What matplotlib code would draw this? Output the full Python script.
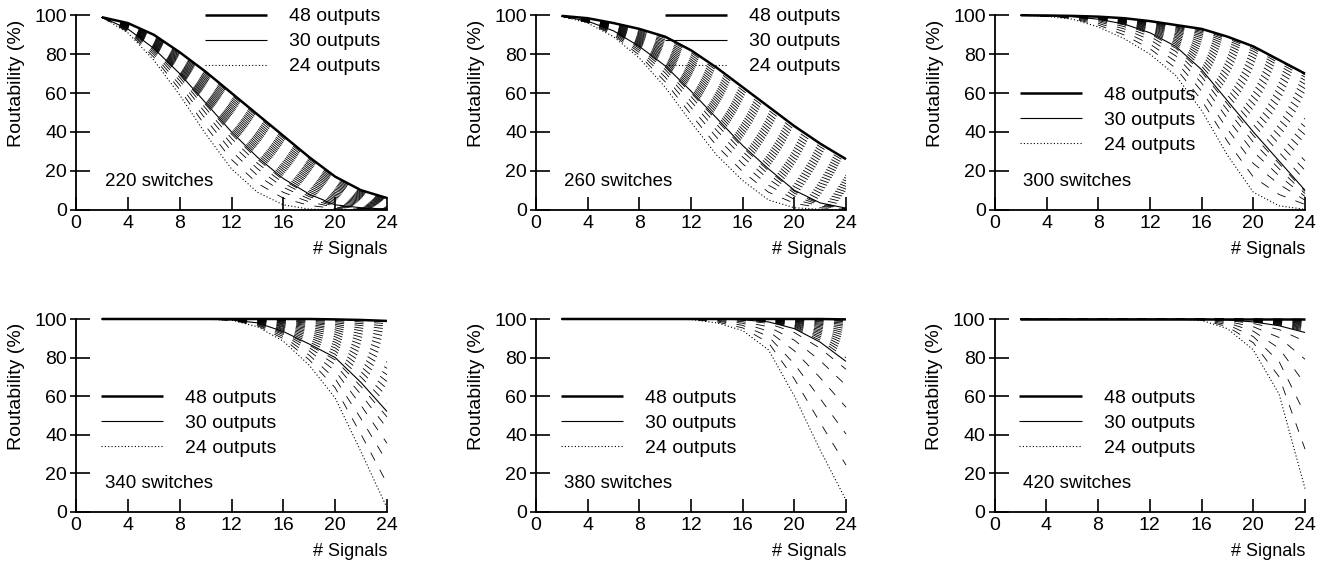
import matplotlib
matplotlib.use("Agg")
import matplotlib.pyplot as plt
from matplotlib.ticker import FixedLocator

plt.rcParams["font.family"] = ["Liberation Sans", "DejaVu Sans"]
plt.rcParams["lines.scale_dashes"] = False

SIGNALS = [2, 4, 6, 8, 10, 12, 14, 16, 18, 20, 22, 24]
OUTPUTS = [24, 25, 26, 27, 28, 29, 30, 31, 32, 33, 34, 35, 36,
           37, 38, 39, 40, 41, 42, 43, 44, 45, 46, 47, 48]
SWITCHES = [220, 260, 300, 340, 380, 420]
X_TICKS = [0, 4, 8, 12, 16, 20, 24]
Y_TICKS = [0, 20, 40, 60, 80, 100]

# routability (%) per output count (rows 24..48) over SIGNALS
R220 = [
    [99, 91, 77, 59, 39, 21, 9, 2.5, 0.3, 0, 0, 0],
    [99, 91.5, 78.5, 61.8, 43.0, 25.8, 13.6, 5.9, 2.2, 0.6, 0.3, 0.1],
    [99, 92.0, 79.9, 64.2, 46.6, 30.1, 17.6, 8.9, 4.0, 1.2, 0.5, 0.1],
    [99, 92.3, 81.0, 66.4, 49.7, 33.7, 21.1, 11.5, 5.5, 1.7, 0.7, 0.2],
    [99, 92.7, 82.0, 68.1, 52.2, 36.7, 23.9, 13.7, 6.7, 2.1, 0.8, 0.2],
    [99, 92.9, 82.7, 69.4, 54.1, 38.9, 26.0, 15.2, 7.6, 2.4, 0.9, 0.3],
    [99, 93, 83, 70, 55, 40, 27, 16, 8, 2.5, 1, 0.3],
    [99, 93.2, 83.4, 70.6, 55.9, 41.1, 28.2, 17.2, 9.1, 3.3, 1.5, 0.6],
    [99, 93.3, 83.8, 71.2, 56.8, 42.2, 29.4, 18.4, 10.1, 4.1, 2.0, 0.9],
    [99, 93.5, 84.2, 71.8, 57.7, 43.3, 30.7, 19.7, 11.2, 4.9, 2.5, 1.3],
    [99, 93.7, 84.6, 72.4, 58.6, 44.4, 31.9, 20.9, 12.2, 5.7, 3.0, 1.6],
    [99, 93.8, 84.9, 73.1, 59.4, 45.6, 33.1, 22.1, 13.3, 6.5, 3.5, 1.9],
    [99, 94.0, 85.3, 73.7, 60.3, 46.7, 34.3, 23.3, 14.3, 7.3, 4.0, 2.2],
    [99, 94.2, 85.7, 74.3, 61.2, 47.8, 35.6, 24.6, 15.4, 8.1, 4.5, 2.5],
    [99, 94.3, 86.1, 74.9, 62.1, 48.9, 36.8, 25.8, 16.4, 8.9, 5.0, 2.8],
    [99, 94.5, 86.5, 75.5, 63.0, 50.0, 38.0, 27.0, 17.5, 9.8, 5.5, 3.2],
    [99, 94.7, 86.9, 76.1, 63.9, 51.1, 39.2, 28.2, 18.6, 10.6, 6.0, 3.5],
    [99, 94.8, 87.3, 76.7, 64.8, 52.2, 40.4, 29.4, 19.6, 11.4, 6.5, 3.8],
    [99, 95.0, 87.7, 77.3, 65.7, 53.3, 41.7, 30.7, 20.7, 12.2, 7.0, 4.1],
    [99, 95.2, 88.1, 77.9, 66.6, 54.4, 42.9, 31.9, 21.7, 13.0, 7.5, 4.4],
    [99, 95.3, 88.4, 78.6, 67.4, 55.6, 44.1, 33.1, 22.8, 13.8, 8.0, 4.7],
    [99, 95.5, 88.8, 79.2, 68.3, 56.7, 45.3, 34.3, 23.8, 14.6, 8.5, 5.1],
    [99, 95.7, 89.2, 79.8, 69.2, 57.8, 46.6, 35.6, 24.9, 15.4, 9.0, 5.4],
    [99, 95.8, 89.6, 80.4, 70.1, 58.9, 47.8, 36.8, 25.9, 16.2, 9.5, 5.7],
    [99, 96, 90, 81, 71, 60, 49, 38, 27, 17, 10, 6],
]

R260 = [
    [99.5, 96, 89, 78, 63, 45, 28, 15, 5, 1, 0.2, 0],
    [99.5, 96.3, 89.8, 79.5, 65.8, 49.0, 32.8, 19.6, 9.0, 3.3, 1.0, 0.2],
    [99.5, 96.5, 90.4, 80.9, 68.2, 52.6, 37.1, 23.6, 12.6, 5.3, 1.8, 0.4],
    [99.5, 96.7, 91.0, 82.0, 70.4, 55.7, 40.7, 27.1, 15.7, 7.0, 2.4, 0.5],
    [99.5, 96.8, 91.5, 83.0, 72.1, 58.2, 43.7, 29.9, 18.2, 8.5, 2.9, 0.7],
    [99.5, 96.9, 91.8, 83.7, 73.4, 60.1, 45.9, 32.0, 20.1, 9.5, 3.3, 0.8],
    [99.5, 97, 92, 84, 74, 61, 47, 33, 21, 10, 3.5, 0.8],
    [99.5, 97.1, 92.2, 84.5, 74.8, 62.2, 48.4, 34.7, 22.8, 11.8, 5.2, 2.2],
    [99.5, 97.2, 92.4, 85.0, 75.7, 63.3, 49.9, 36.3, 24.6, 13.7, 6.9, 3.6],
    [99.5, 97.3, 92.7, 85.5, 76.5, 64.5, 51.3, 38.0, 26.3, 15.5, 8.6, 5.0],
    [99.5, 97.3, 92.9, 86.0, 77.3, 65.7, 52.8, 39.7, 28.1, 17.3, 10.3, 6.4],
    [99.6, 97.4, 93.1, 86.5, 78.2, 66.8, 54.2, 41.3, 29.9, 19.2, 12.0, 7.8],
    [99.6, 97.5, 93.3, 87.0, 79.0, 68.0, 55.7, 43.0, 31.7, 21.0, 13.7, 9.2],
    [99.6, 97.6, 93.6, 87.5, 79.8, 69.2, 57.1, 44.7, 33.4, 22.8, 15.4, 10.6],
    [99.6, 97.7, 93.8, 88.0, 80.7, 70.3, 58.6, 46.3, 35.2, 24.7, 17.1, 12.0],
    [99.6, 97.8, 94.0, 88.5, 81.5, 71.5, 60.0, 48.0, 37.0, 26.5, 18.8, 13.4],
    [99.6, 97.8, 94.2, 89.0, 82.3, 72.7, 61.4, 49.7, 38.8, 28.3, 20.4, 14.8],
    [99.6, 97.9, 94.4, 89.5, 83.2, 73.8, 62.9, 51.3, 40.6, 30.2, 22.1, 16.2],
    [99.6, 98.0, 94.7, 90.0, 84.0, 75.0, 64.3, 53.0, 42.3, 32.0, 23.8, 17.6],
    [99.6, 98.1, 94.9, 90.5, 84.8, 76.2, 65.8, 54.7, 44.1, 33.8, 25.5, 19.0],
    [99.7, 98.2, 95.1, 91.0, 85.7, 77.3, 67.2, 56.3, 45.9, 35.7, 27.2, 20.4],
    [99.7, 98.3, 95.3, 91.5, 86.5, 78.5, 68.7, 58.0, 47.7, 37.5, 28.9, 21.8],
    [99.7, 98.3, 95.6, 92.0, 87.3, 79.7, 70.1, 59.7, 49.4, 39.3, 30.6, 23.2],
    [99.7, 98.4, 95.8, 92.5, 88.2, 80.8, 71.6, 61.3, 51.2, 41.2, 32.3, 24.6],
    [99.7, 98.5, 96, 93, 89, 82, 73, 63, 53, 43, 34, 26],
]

R300 = [
    [100, 99.5, 98, 94, 88, 80, 69, 51, 28, 9, 2, 0.2],
    [100, 99.6, 98.3, 95.0, 89.9, 82.8, 72.8, 56.3, 35.1, 16.8, 7.8, 2.7],
    [100, 99.6, 98.6, 95.9, 91.6, 85.2, 76.2, 61.0, 41.4, 23.8, 13.0, 4.9],
    [100, 99.7, 98.9, 96.7, 93.0, 87.4, 79.1, 65.1, 46.8, 29.8, 17.4, 6.8],
    [100, 99.7, 99.1, 97.3, 94.2, 89.1, 81.4, 68.4, 51.2, 34.7, 21.0, 8.3],
    [100, 99.8, 99.2, 97.8, 95.1, 90.4, 83.1, 70.8, 54.4, 38.2, 23.7, 9.4],
    [100, 99.8, 99.3, 98, 95.5, 91, 84, 72, 56, 40, 25, 10],
    [100, 99.8, 99.3, 98.1, 95.8, 91.5, 85.0, 73.8, 58.9, 43.8, 29.5, 15.2],
    [100, 99.8, 99.4, 98.2, 96.0, 92.0, 85.9, 75.6, 61.7, 47.6, 33.9, 20.3],
    [100, 99.8, 99.4, 98.3, 96.3, 92.5, 86.8, 77.3, 64.4, 51.1, 38.2, 25.2],
    [100, 99.8, 99.4, 98.4, 96.5, 93.0, 87.6, 79.0, 66.9, 54.6, 42.2, 29.9],
    [100, 99.8, 99.5, 98.5, 96.7, 93.4, 88.5, 80.5, 69.4, 57.9, 46.1, 34.4],
    [100, 99.9, 99.5, 98.6, 96.9, 93.9, 89.2, 82.0, 71.7, 61.0, 49.8, 38.6],
    [100, 99.9, 99.5, 98.7, 97.1, 94.3, 90.0, 83.4, 74.0, 64.0, 53.3, 42.7],
    [100, 99.9, 99.5, 98.8, 97.3, 94.7, 90.7, 84.8, 76.1, 66.8, 56.7, 46.6],
    [100, 99.9, 99.6, 98.9, 97.5, 95.0, 91.4, 86.1, 78.1, 69.5, 59.8, 50.2],
    [100, 99.9, 99.6, 99.0, 97.7, 95.4, 92.0, 87.3, 80.0, 72.0, 62.8, 53.6],
    [100, 99.9, 99.6, 99.0, 97.8, 95.7, 92.6, 88.4, 81.7, 74.3, 65.5, 56.7],
    [100, 99.9, 99.6, 99.1, 98.0, 96.0, 93.1, 89.4, 83.3, 76.4, 68.1, 59.7],
    [100, 99.9, 99.6, 99.1, 98.1, 96.2, 93.6, 90.3, 84.7, 78.3, 70.3, 62.3],
    [100, 99.9, 99.7, 99.2, 98.2, 96.5, 94.0, 91.1, 86.0, 80.0, 72.3, 64.6],
    [100, 99.9, 99.7, 99.2, 98.3, 96.7, 94.4, 91.8, 87.1, 81.5, 74.0, 66.6],
    [100, 99.9, 99.7, 99.3, 98.4, 96.8, 94.7, 92.4, 88.0, 82.7, 75.4, 68.2],
    [100, 99.9, 99.7, 99.3, 98.5, 96.9, 94.9, 92.8, 88.7, 83.6, 76.5, 69.4],
    [100, 99.9, 99.7, 99.3, 98.5, 97, 95, 93, 89, 84, 77, 70],
]

R340 = [
    [100, 100, 100, 100, 99.9, 99.4, 96.0, 88.5, 76.0, 59.0, 31.0, 2.0],
    [100, 100, 100, 100, 99.9, 99.4, 96.5, 89.8, 78.8, 64.3, 40.1, 14.7],
    [100, 100, 100, 100, 100, 99.5, 97.0, 90.9, 81.2, 69.0, 48.2, 25.9],
    [100, 100, 100, 100, 100, 99.5, 97.3, 91.9, 83.4, 73.1, 55.1, 35.5],
    [100, 100, 100, 100, 100, 99.5, 97.7, 92.6, 85.1, 76.4, 60.8, 43.4],
    [100, 100, 100, 100, 100, 99.5, 97.9, 93.2, 86.4, 78.8, 64.9, 49.2],
    [100, 100, 100, 100, 100, 99.5, 98.0, 93.5, 87.0, 80.0, 67.0, 52.0],
    [100, 100, 100, 100, 100, 99.5, 98.2, 94.1, 88.1, 81.7, 69.8, 56.1],
    [100, 100, 100, 100, 100, 99.6, 98.3, 94.6, 89.2, 83.4, 72.6, 60.1],
    [100, 100, 100, 100, 100, 99.6, 98.5, 95.1, 90.3, 85.0, 75.2, 63.9],
    [100, 100, 100, 100, 100, 99.7, 98.7, 95.7, 91.3, 86.6, 77.8, 67.6],
    [100, 100, 100, 100, 100, 99.7, 98.8, 96.1, 92.3, 88.0, 80.2, 71.1],
    [100, 100, 100, 100, 100, 99.7, 99.0, 96.6, 93.2, 89.4, 82.5, 74.4],
    [100, 100, 100, 100, 100, 99.8, 99.1, 97.0, 94.1, 90.8, 84.7, 77.6],
    [100, 100, 100, 100, 100, 99.8, 99.2, 97.5, 94.9, 92.1, 86.8, 80.7],
    [100, 100, 100, 100, 100, 99.8, 99.3, 97.9, 95.7, 93.3, 88.8, 83.5],
    [100, 100, 100, 100, 100, 99.9, 99.5, 98.2, 96.5, 94.4, 90.6, 86.2],
    [100, 100, 100, 100, 100, 99.9, 99.6, 98.6, 97.1, 95.4, 92.3, 88.6],
    [100, 100, 100, 100, 100, 99.9, 99.7, 98.9, 97.8, 96.4, 93.9, 90.9],
    [100, 100, 100, 100, 100, 99.9, 99.7, 99.2, 98.3, 97.2, 95.3, 92.9],
    [100, 100, 100, 100, 100, 100, 99.8, 99.4, 98.8, 98.0, 96.6, 94.8],
    [100, 100, 100, 100, 100, 100, 99.9, 99.6, 99.3, 98.7, 97.6, 96.3],
    [100, 100, 100, 100, 100, 100, 99.9, 99.8, 99.6, 99.2, 98.5, 97.6],
    [100, 100, 100, 100, 100, 100, 100, 99.9, 99.9, 99.6, 99.2, 98.5],
    [100, 100, 100, 100, 100, 100, 100, 100, 100, 99.8, 99.5, 99.0],
]

R380 = [
    [100, 100, 100, 100, 100, 99.7, 98.0, 94.0, 84.0, 60.0, 32.0, 6.0],
    [100, 100, 100, 100, 100, 99.8, 98.5, 95.4, 87.7, 68.9, 46.2, 24.2],
    [100, 100, 100, 100, 100, 99.8, 99.0, 96.7, 90.9, 76.7, 58.7, 40.3],
    [100, 100, 100, 100, 100, 99.9, 99.3, 97.8, 93.7, 83.5, 69.5, 54.2],
    [100, 100, 100, 100, 100, 99.9, 99.7, 98.6, 96.0, 89.0, 78.4, 65.6],
    [100, 100, 100, 100, 100, 100, 99.9, 99.3, 97.7, 93.0, 84.8, 73.9],
    [100, 100, 100, 100, 100, 100, 100, 99.6, 98.5, 95.0, 88.0, 78.0],
    [100, 100, 100, 100, 100, 100, 100, 99.6, 98.6, 95.4, 89.0, 79.9],
    [100, 100, 100, 100, 100, 100, 100, 99.7, 98.8, 95.9, 90.1, 81.7],
    [100, 100, 100, 100, 100, 100, 100, 99.7, 98.9, 96.3, 91.0, 83.5],
    [100, 100, 100, 100, 100, 100, 100, 99.7, 99.0, 96.7, 92.0, 85.2],
    [100, 100, 100, 100, 100, 100, 100, 99.8, 99.1, 97.0, 92.9, 86.9],
    [100, 100, 100, 100, 100, 100, 100, 99.8, 99.2, 97.4, 93.7, 88.4],
    [100, 100, 100, 100, 100, 100, 100, 99.8, 99.3, 97.7, 94.5, 89.9],
    [100, 100, 100, 100, 100, 100, 100, 99.8, 99.4, 98.1, 95.3, 91.3],
    [100, 100, 100, 100, 100, 100, 100, 99.9, 99.5, 98.4, 96.0, 92.6],
    [100, 100, 100, 100, 100, 100, 100, 99.9, 99.6, 98.6, 96.7, 93.8],
    [100, 100, 100, 100, 100, 100, 100, 99.9, 99.7, 98.9, 97.3, 95.0],
    [100, 100, 100, 100, 100, 100, 100, 99.9, 99.7, 99.1, 97.9, 96.1],
    [100, 100, 100, 100, 100, 100, 100, 99.9, 99.8, 99.4, 98.5, 97.0],
    [100, 100, 100, 100, 100, 100, 100, 100, 99.9, 99.6, 98.9, 97.8],
    [100, 100, 100, 100, 100, 100, 100, 100, 99.9, 99.7, 99.3, 98.6],
    [100, 100, 100, 100, 100, 100, 100, 100, 100, 99.9, 99.6, 99.1],
    [100, 100, 100, 100, 100, 100, 100, 100, 100, 100, 99.9, 99.6],
    [100, 100, 100, 100, 100, 100, 100, 100, 100, 100, 100, 99.8],
]

R420 = [
    [100, 100, 100, 100, 100, 100, 100, 99.3, 95.0, 84.0, 61.0, 12.0],
    [100, 100, 100, 100, 100, 100, 100, 99.5, 96.1, 87.7, 70.0, 32.5],
    [100, 100, 100, 100, 100, 100, 100, 99.6, 97.1, 90.9, 77.9, 50.6],
    [100, 100, 100, 100, 100, 100, 100, 99.8, 98.0, 93.7, 84.8, 66.3],
    [100, 100, 100, 100, 100, 100, 100, 99.9, 98.7, 96.0, 90.4, 79.1],
    [100, 100, 100, 100, 100, 100, 100, 100, 99.2, 97.7, 94.5, 88.4],
    [100, 100, 100, 100, 100, 100, 100, 100, 99.5, 98.5, 96.5, 93.0],
    [100, 100, 100, 100, 100, 100, 100, 100, 99.5, 98.6, 96.8, 93.6],
    [100, 100, 100, 100, 100, 100, 100, 100, 99.6, 98.8, 97.1, 94.2],
    [100, 100, 100, 100, 100, 100, 100, 100, 99.6, 98.9, 97.4, 94.8],
    [100, 100, 100, 100, 100, 100, 100, 100, 99.7, 99.0, 97.7, 95.3],
    [100, 100, 100, 100, 100, 100, 100, 100, 99.7, 99.1, 97.9, 95.8],
    [100, 100, 100, 100, 100, 100, 100, 100, 99.7, 99.2, 98.2, 96.3],
    [100, 100, 100, 100, 100, 100, 100, 100, 99.8, 99.3, 98.4, 96.8],
    [100, 100, 100, 100, 100, 100, 100, 100, 99.8, 99.4, 98.6, 97.3],
    [100, 100, 100, 100, 100, 100, 100, 100, 99.8, 99.5, 98.8, 97.7],
    [100, 100, 100, 100, 100, 100, 100, 100, 99.9, 99.6, 99.0, 98.1],
    [100, 100, 100, 100, 100, 100, 100, 100, 99.9, 99.7, 99.2, 98.5],
    [100, 100, 100, 100, 100, 100, 100, 100, 99.9, 99.7, 99.4, 98.8],
    [100, 100, 100, 100, 100, 100, 100, 100, 99.9, 99.8, 99.5, 99.1],
    [100, 100, 100, 100, 100, 100, 100, 100, 100, 99.9, 99.7, 99.4],
    [100, 100, 100, 100, 100, 100, 100, 100, 100, 99.9, 99.8, 99.6],
    [100, 100, 100, 100, 100, 100, 100, 100, 100, 100, 99.9, 99.8],
    [100, 100, 100, 100, 100, 100, 100, 100, 100, 100, 100, 99.9],
    [100, 100, 100, 100, 100, 100, 100, 100, 100, 100, 100, 100],
]

PANELS = dict(zip(SWITCHES, [R220, R260, R300, R340, R380, R420]))

W, H = 1328, 569
# axes boxes in pixels: left, top, width, height
BOXES = [(76, 15.3, 311, 194.4), (536, 15.3, 310, 194.4), (995, 15.3, 310, 194.4),
         (76, 319, 311, 192.7), (536, 319, 310, 192.7), (994.5, 319, 310.5, 192.7)]
# legend anchor (axes fraction, centre of middle entry)
LEG_AT = [(0.415, 0.865), (0.415, 0.865), (0.08, 0.46),
          (0.08, 0.46), (0.08, 0.46), (0.08, 0.46)]


def line_style(n):
    if n == 48:
        return dict(lw=1.8, ls="-", zorder=5)
    if n == 30:
        return dict(lw=0.8, ls="-", zorder=4)
    if n == 24:
        return dict(lw=0.8, ls=(0, (0.8, 1.6)), zorder=4)
    return dict(lw=0.6, ls=(0, (6.5, 7.5)), zorder=3)


fig = plt.figure(figsize=(W / 100, H / 100), dpi=100)

for i, sw in enumerate(SWITCHES):
    l, t, w, h = BOXES[i]
    ax = fig.add_axes([l / W, 1 - (t + h) / H, w / W, h / H])
    keys = {}
    for n, row in zip(OUTPUTS, PANELS[sw]):
        ln, = ax.plot(SIGNALS, row, color="black", clip_on=False,
                      solid_capstyle="butt", dash_capstyle="butt",
                      **line_style(n))
        if n in (48, 30, 24):
            keys[n] = ln

    ax.set_xlim(0, 24)
    ax.set_ylim(0, 100)
    for side in ("top", "right"):
        ax.spines[side].set_visible(False)
    for side in ("left", "bottom"):
        ax.spines[side].set_linewidth(1.3)

    ax.set_xticks(X_TICKS)
    ax.set_yticks(Y_TICKS)
    ax.tick_params(axis="x", direction="in", length=9.5, width=1.2, pad=3.5,
                   labelsize=14)
    ax.tick_params(axis="y", which="major", direction="in", length=10,
                   width=1.2, pad=6.5, labelsize=14)
    # short outward stubs on the y ticks
    ax.yaxis.set_minor_locator(FixedLocator(Y_TICKS))
    ax.yaxis.remove_overlapping_locs = False
    ax.tick_params(axis="y", which="minor", direction="out", length=4.3,
                   width=1.2)

    ax.set_xlabel("# Signals", loc="right", fontsize=13, labelpad=7)
    ax.set_ylabel("Routability (%)", fontsize=14)
    ax.yaxis.set_label_coords(-0.165, 0.65)

    ax.text(2.2, 14.5, f"{sw} switches", fontsize=13.5, va="center")

    ax.legend([keys[48], keys[30], keys[24]],
              ["48 outputs", "30 outputs", "24 outputs"],
              loc="center left", bbox_to_anchor=LEG_AT[i], frameon=False,
              fontsize=14, handlelength=3.2, handletextpad=1.13,
              labelspacing=0.38, borderpad=0, borderaxespad=0)

fig.savefig("out.png", dpi=100, facecolor="white")
